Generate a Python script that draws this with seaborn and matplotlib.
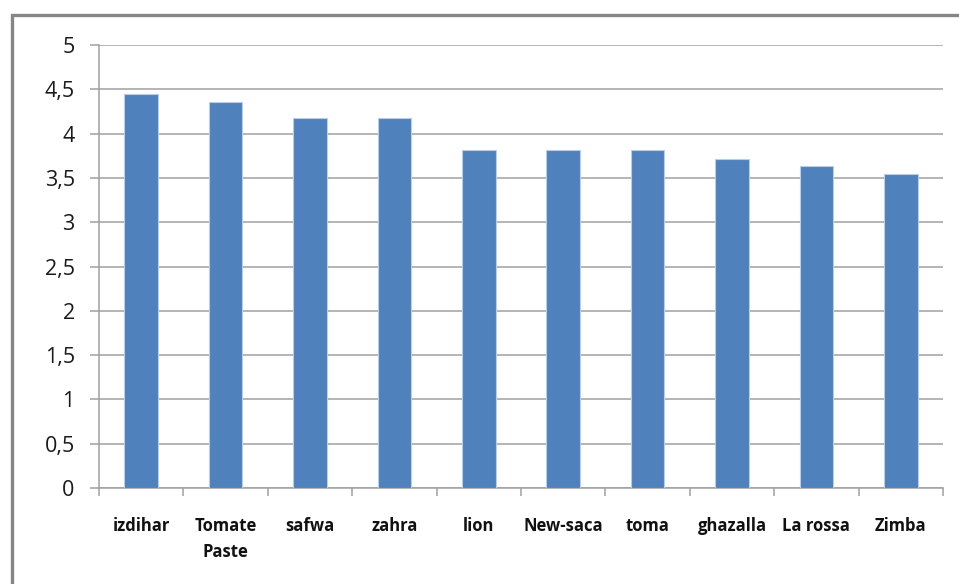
import numpy as np
import pandas as pd
import matplotlib
matplotlib.use("Agg")
import matplotlib.pyplot as plt
import seaborn as sns
from matplotlib.patches import Rectangle
from matplotlib.ticker import FixedLocator, FuncFormatter

brands = ["izdihar", "Tomate\nPaste", "safwa", "zahra", "lion",
          "New-saca", "toma", "ghazalla", "La rossa", "Zimba"]
scores = [4.45, 4.36, 4.18, 4.18, 3.81, 3.81, 3.81, 3.71, 3.63, 3.54]
y_ticks = [0, 0.5, 1, 1.5, 2, 2.5, 3, 3.5, 4, 4.5, 5]

sns.set_style("white")
plt.rcParams['font.family'] = ['Open Sans', 'DejaVu Sans']

df = pd.DataFrame({'brand': brands, 'score': scores})

fig = plt.figure(figsize=(9.59, 5.84), dpi=100)
W, H = 959, 584
ax = fig.add_axes([99 / W, 1 - 488 / H, (943 - 99) / W, (488 - 45) / H])

# outer chart border (right and bottom edges fall outside the image)
fig.patches.append(Rectangle((12 / W, -0.05), 1.0, 1 - 15 / H + 0.05,
                             transform=fig.transFigure, fill=False,
                             edgecolor='#868686', linewidth=2.4))

sns.barplot(data=df, x='brand', y='score', color='#4F81BD', width=0.4,
            saturation=1, edgecolor='#B9CDE5', linewidth=0.8, ax=ax, zorder=3)

ax.set_xlim(-0.5, len(brands) - 0.5)
ax.set_ylim(0, 5)
ax.set_yticks(y_ticks)
ax.yaxis.set_major_formatter(FuncFormatter(lambda v, p: f"{v:g}".replace('.', ',')))
ax.yaxis.grid(True, color='#A0A0A0', linewidth=1.1, zorder=0)
ax.set_axisbelow(True)

ax.tick_params(axis='y', length=6.5, width=1.1, color='#A0A0A0', pad=11,
               labelsize=15.5, labelcolor='#1a1a1a', left=True)
ax.tick_params(axis='x', which='major', length=0, pad=21, labelsize=12,
               labelcolor='#111111')
for lbl in ax.get_xticklabels():
    lbl.set_fontweight('bold')
    lbl.set_linespacing(1.55)
ax.xaxis.set_minor_locator(FixedLocator(np.arange(-0.5, len(brands), 1.0)))
ax.tick_params(axis='x', which='minor', length=6, width=1.1, color='#A0A0A0',
               direction='out', bottom=True)

for s in ['top', 'right']:
    ax.spines[s].set_visible(False)
for s in ['left', 'bottom']:
    ax.spines[s].set_color('#A0A0A0')
    ax.spines[s].set_linewidth(1.1)

ax.set_xlabel('')
ax.set_ylabel('')

plt.savefig('out.png', dpi=100)
plt.close()
